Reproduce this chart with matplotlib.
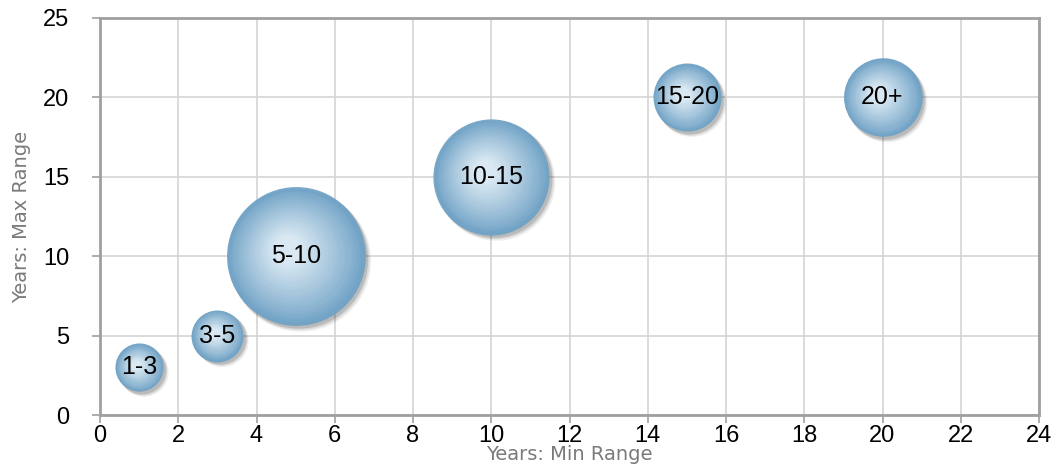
import matplotlib
matplotlib.use("Agg")
from matplotlib import pyplot as plt
from matplotlib import transforms
import numpy as np

labels = ["1-3", "3-5", "5-10", "10-15", "15-20", "20+"]
min_range = [1, 3, 5, 10, 15, 20]
max_range = [3, 5, 10, 15, 20, 20]
bubble_value = [12, 14, 100, 70, 24, 32]

plt.rcParams['font.family'] = ['Liberation Sans', 'DejaVu Sans']

fig = plt.figure(figsize=(10.63, 4.68), dpi=100)
ax = fig.add_axes([100 / 1063, 53 / 468, 939 / 1063, 397 / 468])

x = np.array(min_range)
y = np.array(max_range)
s = np.array(bubble_value) * 100.0

edge = np.array([0.43, 0.63, 0.77])
light = np.array([0.85, 0.91, 0.95])

# drop shadow, offset to lower right
for k, (dx, a) in enumerate([(5, 0.08), (4, 0.12), (3, 0.18)]):
    off = transforms.offset_copy(ax.transData, fig=fig, x=dx, y=-dx, units='dots')
    ax.scatter(x, y, s=s * (1.0 + 0.015 * (2 - k)), color='#333333', alpha=a,
               linewidths=0, transform=off, zorder=3)

# radial gradient built from shrinking discs, highlight toward upper left
n = 30
r_px = np.sqrt(s) / 2.0 * 100 / 72
for i in range(n):
    t = i / (n - 1)
    f = 1.0 - 0.8 * t
    col = edge + (light - edge) * (t ** 0.9)
    for xi, yi, si, rp in zip(x, y, s, r_px):
        sh = (1 - f) * rp * 0.25
        o = transforms.offset_copy(ax.transData, fig=fig, x=-sh * 0.6, y=sh * 0.5, units='dots')
        ax.scatter([xi], [yi], s=si * f * f, color=col, linewidths=0,
                   alpha=0.92 if i == 0 else 1.0, transform=o, zorder=4)

for xi, yi, lab in zip(x, y, labels):
    ax.text(xi, yi, lab, ha='center', va='center', fontsize=18, color='black', zorder=6)

ax.set_xlim(0, 24)
ax.set_ylim(0, 25)
ax.set_xticks(np.arange(0, 25, 2))
ax.set_yticks(np.arange(0, 26, 5))
ax.grid(True, color='#d4d4d4', linewidth=1.2, zorder=0)
ax.set_axisbelow(True)
for sp in ax.spines.values():
    sp.set_color('#a0a0a0')
    sp.set_linewidth(2)
ax.tick_params(axis='both', labelsize=17, colors='#a0a0a0', labelcolor='black',
               length=6, width=1.2)
ax.tick_params(axis='y', pad=16)
ax.tick_params(axis='x', pad=1)

ax.set_xlabel("Years: Min Range", fontsize=14, color='#7a7a7a',
              family='DejaVu Sans', labelpad=-1)
ax.set_ylabel("Years: Max Range", fontsize=14, color='#7a7a7a',
              family='DejaVu Sans', labelpad=9)

fig.savefig("out.png", dpi=100)
